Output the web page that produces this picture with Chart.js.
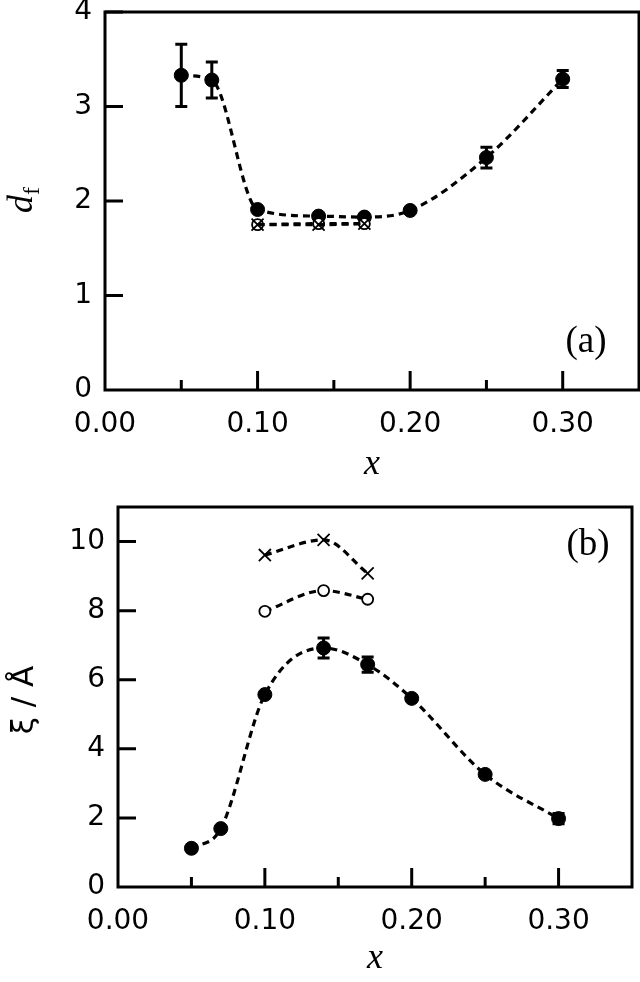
<!DOCTYPE html>
<html><head><meta charset="utf-8">
<script src="https://cdn.jsdelivr.net/npm/chart.js@4.4.1/dist/chart.umd.min.js"></script>
<style>
html,body{margin:0;padding:0;background:#fff;}
#wrap{position:relative;width:640px;height:982px;}
canvas{position:absolute;left:0;}
#c1{top:0;} #c2{top:490px;}
</style></head><body>
<div id="wrap">
  <canvas id="c1" width="640" height="490"></canvas>
  <canvas id="c2" width="640" height="492"></canvas>
</div>
<script>
// x positions
const xVals = [0.05, 0.07, 0.10, 0.14, 0.17, 0.20, 0.25, 0.30];
const xSub  = [0.10, 0.14, 0.17];

// (a) fractal dimension d_f
const dfFilled = [3.33, 3.28, 1.91, 1.84, 1.83, 1.90, 2.46, 3.29];
const dfErr    = [0.33, 0.19, 0, 0, 0, 0, 0.11, 0.09];
const dfCross  = [1.75, 1.75, 1.76];
const dfOpen   = [1.75, 1.76, 1.76];

// (b) correlation length xi / A
const xiFilled = [1.12, 1.69, 5.57, 6.92, 6.44, 5.46, 3.26, 1.98];
const xiErr    = [0, 0, 0, 0.29, 0.22, 0, 0, 0.15];
const xiCross  = [9.61, 10.05, 9.08];
const xiOpen   = [7.98, 8.58, 8.33];

// ticks
const xTicks  = [0, 0.10, 0.20, 0.30];
const xMinor  = [0.05, 0.15, 0.25];
const dfTicks = [0, 1, 2, 3, 4];
const xiTicks = [0, 2, 4, 6, 8, 10];

const TICK_FONT = {family: 'DejaVu Sans', size: 28};
const pts = (xs, ys) => xs.map((x, i) => ({x, y: ys[i]}));

// no label overflow padding, so the plot box lands where we ask
function noPad(s) { s.paddingTop = 0; s.paddingBottom = 0; s.paddingLeft = 0; s.paddingRight = 0; }

// frame box, inward ticks, titles, panel tag
const framePlugin = {
  id: 'frame',
  afterDraw(chart, args, o) {
    const {ctx, chartArea: a, scales} = chart;
    const xs = scales.x, ys = scales.y;
    ctx.save();
    ctx.strokeStyle = '#000';
    ctx.lineWidth = 3;
    ctx.strokeRect(a.left, a.top, a.right - a.left, a.bottom - a.top);
    ctx.beginPath();
    xTicks.forEach(v => { if (v > 0) { const p = xs.getPixelForValue(v); ctx.moveTo(p, a.bottom); ctx.lineTo(p, a.bottom - 19); } });
    xMinor.forEach(v => { const p = xs.getPixelForValue(v); ctx.moveTo(p, a.bottom); ctx.lineTo(p, a.bottom - 10); });
    o.yTicks.forEach(v => { if (v > 0) { const p = ys.getPixelForValue(v); ctx.moveTo(a.left, p); ctx.lineTo(a.left + 18, p); } });
    ctx.stroke();

    ctx.fillStyle = '#000';
    // x title
    ctx.font = 'italic 36px "Liberation Serif"';
    ctx.textAlign = 'center';
    ctx.textBaseline = 'alphabetic';
    ctx.fillText('x', (a.left + a.right) / 2, o.xTitleY);
    // panel tag
    ctx.font = '37px "Liberation Serif"';
    ctx.fillText(o.tag, o.tagX, o.tagY);
    // y title
    ctx.translate(o.yTitleX, o.yTitleY);
    ctx.rotate(-Math.PI / 2);
    ctx.textAlign = 'left';
    if (o.tag === '(a)') {
      ctx.font = 'italic 36px "Liberation Serif"';
      const w1 = ctx.measureText('d').width;
      ctx.font = '24px "Liberation Serif"';
      const w2 = ctx.measureText('f').width;
      const s = -(w1 + w2) / 2;
      ctx.font = 'italic 36px "Liberation Serif"';
      ctx.fillText('d', s, 10);
      ctx.font = '24px "Liberation Serif"';
      ctx.fillText('f', s + w1, 17);
    } else {
      ctx.font = '31px "DejaVu Sans"';
      ctx.textAlign = 'center';
      ctx.fillText('\u03BE / \u00C5', 0, 11);
    }
    ctx.restore();
  }
};

// vertical error bars with caps
const errPlugin = {
  id: 'errbars',
  afterDatasetsDraw(chart) {
    const {ctx} = chart, ys = chart.scales.y;
    chart.data.datasets.forEach((ds, i) => {
      if (!ds.errors) return;
      const meta = chart.getDatasetMeta(i);
      ctx.save();
      ctx.strokeStyle = '#000';
      ctx.lineWidth = 3;
      meta.data.forEach((el, j) => {
        const e = ds.errors[j];
        if (!e) return;
        const v = ds.data[j].y;
        const t = ys.getPixelForValue(v + e), b = ys.getPixelForValue(v - e);
        ctx.beginPath();
        ctx.moveTo(el.x, t); ctx.lineTo(el.x, b);
        ctx.moveTo(el.x - 6, t); ctx.lineTo(el.x + 6, t);
        ctx.moveTo(el.x - 6, b); ctx.lineTo(el.x + 6, b);
        ctx.stroke();
      });
      ctx.restore();
    });
  }
};

function lineDs(data, style, extra) {
  const base = {
    data, showLine: true, borderColor: '#000', borderWidth: 3.2, borderDash: [7, 5],
    cubicInterpolationMode: 'monotone', fill: false,
    pointBorderColor: '#000'
  };
  if (style === 'filled') Object.assign(base, {pointStyle: 'circle', pointRadius: 7, pointBackgroundColor: '#000', pointBorderWidth: 1});
  if (style === 'open') Object.assign(base, {pointStyle: 'circle', pointRadius: 5.5, pointBackgroundColor: '#fff', pointBorderWidth: 1.8});
  if (style === 'cross') Object.assign(base, {pointStyle: 'crossRot', pointRadius: 8.5, pointBorderWidth: 1.8});
  return Object.assign(base, extra || {});
}

function makeChart(id, datasets, yMax, yTicks, lay, frameOpts) {
  return new Chart(document.getElementById(id), {
    type: 'line',
    data: {datasets},
    options: {
      responsive: false, animation: false, events: [],
      layout: {autoPadding: false, padding: {left: 0, top: lay.top, right: lay.right, bottom: 0}},
      plugins: {legend: {display: false}, tooltip: {enabled: false}, frame: frameOpts},
      scales: {
        x: {
          type: 'linear', min: 0, max: 0.35,
          grid: {display: false, drawTicks: false}, border: {display: false},
          afterBuildTicks: s => { s.ticks = xTicks.map(v => ({value: v})); },
          afterFit: s => { s.height = lay.xH; noPad(s); },
          ticks: {font: TICK_FONT, color: '#000', padding: 18, maxRotation: 0, callback: v => v.toFixed(2)}
        },
        y: {
          type: 'linear', min: 0, max: yMax,
          grid: {display: false, drawTicks: false}, border: {display: false},
          afterBuildTicks: s => { s.ticks = yTicks.map(v => ({value: v})); },
          afterFit: s => { s.width = lay.yW; noPad(s); },
          ticks: {font: TICK_FONT, color: '#000', padding: 13}
        }
      }
    },
    plugins: [framePlugin, errPlugin]
  });
}

makeChart('c1', [
  lineDs(pts(xSub, dfCross), 'cross'),
  lineDs(pts(xSub, dfOpen), 'open'),
  lineDs(pts(xVals, dfFilled), 'filled', {errors: dfErr})
], 4, dfTicks, {top: 12, right: 1, xH: 100, yW: 105},
  {yTicks: dfTicks, tag: '(a)', tagX: 586, tagY: 352, xTitleY: 474, yTitleX: 22, yTitleY: 200});

makeChart('c2', [
  lineDs(pts(xSub, xiCross), 'cross'),
  lineDs(pts(xSub, xiOpen), 'open'),
  lineDs(pts(xVals, xiFilled), 'filled', {errors: xiErr})
], 11, xiTicks, {top: 17, right: 8, xH: 95, yW: 118},
  {yTicks: xiTicks, tag: '(b)', tagX: 588, tagY: 65, xTitleY: 478, yTitleX: 22, yTitleY: 210});
</script>
</body></html>
